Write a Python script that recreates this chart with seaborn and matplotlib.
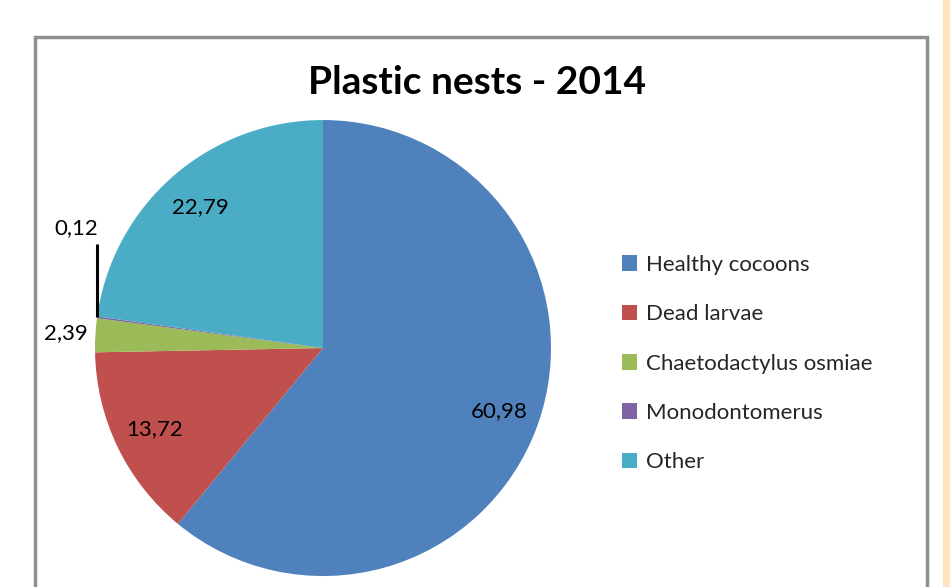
import matplotlib
matplotlib.use("Agg")
import matplotlib.pyplot as plt
import seaborn as sns
import numpy as np
from matplotlib.patches import Rectangle

# data
categories = ['Healthy cocoons', 'Dead larvae', 'Chaetodactylus osmiae',
              'Monodontomerus', 'Other']
values = [60.98, 13.72, 2.39, 0.12, 22.79]
colors = ['#4F81BD', '#C0504D', '#9BBB59', '#8064A2', '#4BACC6']

sns.set_theme(style='white')
plt.rcParams['font.family'] = ['Lato', 'DejaVu Sans']

fig = plt.figure(figsize=(9.5, 5.87), dpi=100)
fig.patch.set_facecolor('white')

# chart frame and the peach strip on the right
fig.patches.append(Rectangle((35 / 950, -0.05), (927 - 35) / 950, 1.05 - 37 / 587,
                             transform=fig.transFigure, fill=False,
                             edgecolor='#8f8f8f', linewidth=2.5, zorder=0))
fig.patches.append(Rectangle((943 / 950, 0), 7 / 950, 1,
                             transform=fig.transFigure, facecolor='#FDE3BE',
                             edgecolor='none', zorder=0))

ax = fig.add_axes([0.04, -0.0784, 0.6, 0.971])
pal = sns.color_palette(colors)
wedges, _ = ax.pie(values, colors=pal, startangle=90, counterclock=False,
                   radius=1, wedgeprops=dict(linewidth=0))
ax.set_xlim(-1.25, 1.25)
ax.set_ylim(-1.25, 1.25)
ax.set_aspect('equal')
ax.axis('off')

# data labels
lab_fs = 16
for i, (w, v) in enumerate(zip(wedges, values)):
    mid = np.deg2rad((w.theta1 + w.theta2) / 2)
    txt = f'{v:.2f}'.replace('.', ',')
    if v > 5:
        r = 0.82
        ax.text(r * np.cos(mid), r * np.sin(mid), txt, ha='center', va='center',
                fontsize=lab_fs, color='black')
    elif v > 1:
        r = 1.13
        ax.text(r * np.cos(mid), r * np.sin(mid), txt, ha='center', va='center',
                fontsize=lab_fs, color='black')
    else:
        x0, y0 = np.cos(mid), np.sin(mid)
        ax.plot([x0, x0], [y0, y0 + 0.32], color='black', lw=2.2,
                solid_capstyle='butt', clip_on=False)
        ax.text(x0 - 0.09, y0 + 0.39, txt, ha='center', va='center',
                fontsize=lab_fs, color='black')

fig.text(477 / 950, 1 - 82 / 587, 'Plastic nests - 2014', ha='center',
         va='center', fontsize=28, fontweight='bold', color='black')

fig.legend(wedges, categories, loc='upper left',
           bbox_to_anchor=(613 / 950, 1 - 246 / 587), frameon=False,
           fontsize=16, handlelength=0.7, handleheight=0.7,
           handletextpad=0.4, labelspacing=1.32, borderaxespad=0)

fig.savefig('out.png', dpi=100, facecolor='white')
